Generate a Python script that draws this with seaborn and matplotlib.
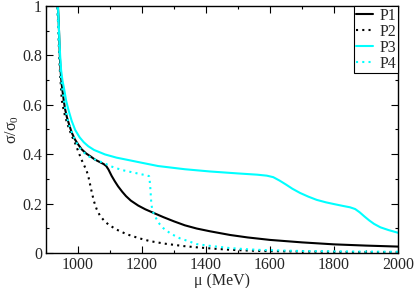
import numpy as np
import pandas as pd
import matplotlib
matplotlib.use("Agg")
import matplotlib.pyplot as plt
import seaborn as sns

# ── Data ──────────────────────────────────────────────────────────────────────
p1_mu = [900, 937, 939, 941, 943, 945, 948, 951, 955, 959, 965, 972, 980, 990,
         1000, 1011, 1025, 1040, 1053, 1068, 1080, 1088, 1095, 1105, 1115, 1125,
         1138, 1150, 1165, 1188, 1210, 1240, 1267, 1300, 1334, 1371, 1412, 1475,
         1530, 1600, 1700, 1800, 1900, 2000]
p1_val = [1.0, 1.0, 0.95, 0.88, 0.80, 0.745, 0.695, 0.66, 0.62, 0.585, 0.55,
          0.52, 0.488, 0.46, 0.44, 0.42, 0.403, 0.39, 0.378, 0.368, 0.36, 0.352,
          0.338, 0.312, 0.29, 0.27, 0.248, 0.23, 0.212, 0.192, 0.177, 0.16,
          0.145, 0.128, 0.112, 0.099, 0.088, 0.073, 0.063, 0.053, 0.043, 0.035,
          0.030, 0.026]

p2_mu = [900, 935, 937, 939, 941, 944, 947, 949, 954, 960, 970, 980, 991, 1001,
         1011, 1020, 1027, 1033, 1038, 1043, 1050, 1058, 1068, 1080, 1095, 1120,
         1152, 1190, 1225, 1270, 1330, 1371, 1420, 1475, 1530, 1580, 1700, 1850,
         2000]
p2_val = [1.0, 1.0, 0.95, 0.88, 0.80, 0.72, 0.665, 0.62, 0.585, 0.55, 0.51,
          0.475, 0.444, 0.41, 0.377, 0.352, 0.332, 0.305, 0.275, 0.245, 0.208,
          0.178, 0.152, 0.133, 0.115, 0.095, 0.076, 0.060, 0.048, 0.038, 0.028,
          0.023, 0.018, 0.013, 0.010, 0.008, 0.006, 0.004, 0.003]

p3_mu = [900, 937, 939, 941, 944, 947, 951, 957, 963, 970, 980, 991, 1005, 1018,
         1032, 1050, 1069, 1084, 1120, 1162, 1200, 1250, 1334, 1412, 1500, 1560,
         1590, 1610, 1630, 1650, 1670, 1694, 1720, 1746, 1775, 1800, 1830, 1850,
         1866, 1880, 1895, 1910, 1925, 1945, 1970, 2000]
p3_val = [1.0, 1.0, 0.95, 0.88, 0.80, 0.74, 0.70, 0.66, 0.615, 0.579, 0.535,
          0.498, 0.468, 0.448, 0.432, 0.417, 0.407, 0.399, 0.386, 0.375, 0.365,
          0.352, 0.339, 0.330, 0.322, 0.317, 0.313, 0.307, 0.293, 0.277, 0.260,
          0.243, 0.228, 0.215, 0.205, 0.198, 0.190, 0.185, 0.178, 0.165, 0.148,
          0.132, 0.118, 0.104, 0.093, 0.082]

p4_mu = [900, 935, 937, 939, 942, 945, 949, 954, 960, 970, 980, 990, 1001, 1015,
         1032, 1050, 1065, 1080, 1100, 1120, 1140, 1168, 1200, 1215, 1222, 1225,
         1227, 1229, 1232, 1237, 1245, 1255, 1267, 1290, 1319, 1340, 1371, 1412,
         1475, 1530, 1579, 1700, 1850, 2000]
p4_val = [1.0, 1.0, 0.95, 0.88, 0.80, 0.73, 0.68, 0.633, 0.585, 0.525, 0.49,
          0.46, 0.432, 0.41, 0.392, 0.38, 0.372, 0.365, 0.352, 0.343, 0.335,
          0.327, 0.318, 0.314, 0.311, 0.28, 0.24, 0.20, 0.175, 0.158, 0.138,
          0.117, 0.100, 0.078, 0.059, 0.050, 0.036, 0.029, 0.020, 0.015, 0.012,
          0.008, 0.006, 0.005]

series_labels = ["P1", "P2", "P3", "P4"]
x_ticks = [1000, 1200, 1400, 1600, 1800, 2000]
y_ticks = [0, 0.2, 0.4, 0.6, 0.8, 1]
y_tick_labels = ["0", "0.2", "0.4", "0.6", "0.8", "1"]

# ── Style ─────────────────────────────────────────────────────────────────────
sns.set_style("ticks")
plt.rcParams["font.family"] = ["Liberation Serif", "DejaVu Serif"]
plt.rcParams["mathtext.fontset"] = "custom"
plt.rcParams["mathtext.rm"] = "Liberation Serif"
plt.rcParams["mathtext.it"] = "Liberation Serif:italic"
plt.rcParams["xtick.direction"] = "in"
plt.rcParams["ytick.direction"] = "in"

fig = plt.figure(figsize=(4.15, 2.88), dpi=100)
ax = fig.add_axes([0.111, 0.1215, 0.848, 0.858])

cyan = "#00ffff"
dot = (0, (1, 2))
styles = [("black", "-"), ("black", dot), (cyan, "-"), (cyan, dot)]
curves = [(p1_mu, p1_val), (p2_mu, p2_val), (p3_mu, p3_val), (p4_mu, p4_val)]

for (mu, val), (col, ls), lab in zip(curves, styles, series_labels):
    sns.lineplot(x=mu, y=val, ax=ax, color=col, linestyle=ls, linewidth=1.5,
                 label=lab, estimator=None, sort=False)

ax.set_xlim(900, 2000)
ax.set_ylim(0, 1)
ax.set_xticks(x_ticks)
ax.set_xticks(np.arange(900, 2001, 100), minor=True)
ax.set_yticks(y_ticks)
ax.set_yticklabels(y_tick_labels)
ax.set_yticks(np.arange(0, 1.01, 0.1), minor=True)
ax.tick_params(which="both", top=True, right=True, labelsize=11.5, width=0.8,
               color="black", pad=3)
ax.tick_params(which="major", length=5)
ax.tick_params(which="minor", length=2.5)
for s in ax.spines.values():
    s.set_color("black")
    s.set_linewidth(1.0)

ax.set_xlabel("μ (MeV)", fontsize=11.5, labelpad=0)
ax.set_ylabel("σ/σ$_0$", fontsize=11.5, labelpad=1)

leg = ax.legend(loc="upper right", fontsize=11.5, frameon=True, fancybox=False,
                framealpha=1, edgecolor="black", borderaxespad=0,
                borderpad=0.1, labelspacing=0.0, handlelength=1.1,
                handletextpad=0.4)
leg.get_frame().set_linewidth(0.8)

fig.savefig("out.png", dpi=100)
